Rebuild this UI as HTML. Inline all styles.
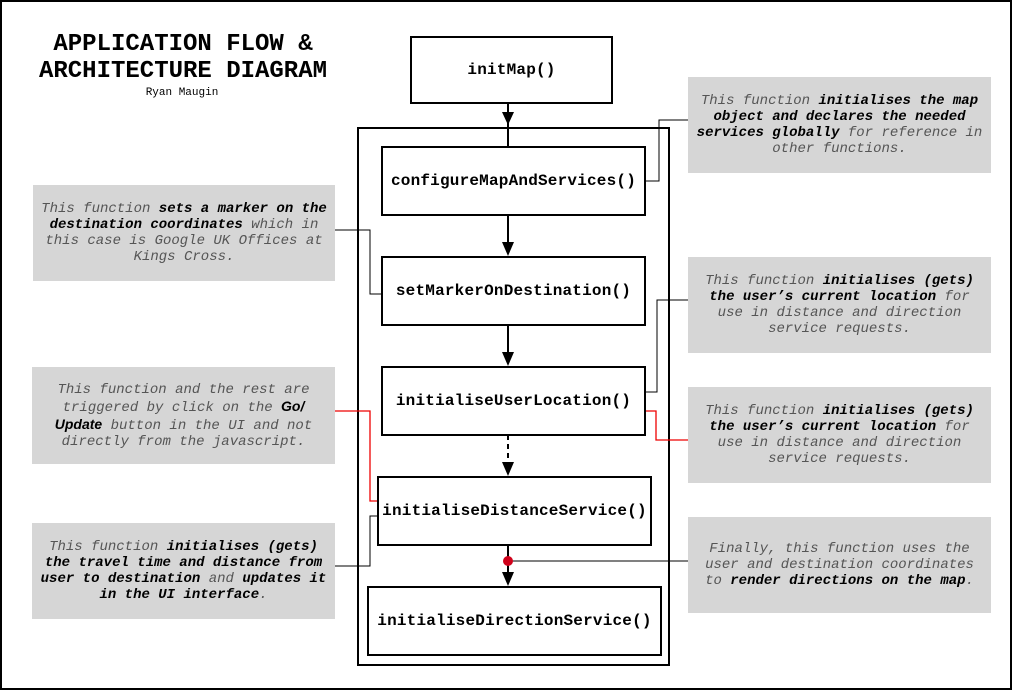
<!DOCTYPE html>
<html><head><meta charset="utf-8"><style>
*{margin:0;padding:0;box-sizing:border-box}
body{width:1012px;height:690px;background:#fff;position:relative;overflow:hidden;font-family:"Liberation Mono",monospace}
.frame{position:absolute;left:0;top:0;width:1012px;height:690px;border:2px solid #000}
.box{position:absolute;border:2px solid #000;background:#fff;display:flex;align-items:center;justify-content:center;font-weight:bold;font-size:16px;letter-spacing:0.2px;color:#000;white-space:nowrap}
.note{position:absolute;background:#d6d6d6;display:flex;align-items:center;justify-content:center;text-align:center;font-style:italic;font-size:14px;line-height:16px;color:#555;padding:0 7px}
.note b{color:#000}
.t{position:absolute;font-weight:bold;text-align:center;color:#000;white-space:nowrap}
</style></head><body>
<div class="frame"></div>
<div class="t" style="left:13px;top:31px;width:340px;font-size:24px;line-height:27px">APPLICATION FLOW &amp;<br>ARCHITECTURE DIAGRAM</div>
<div class="t" style="left:12px;top:87px;width:340px;font-size:11px;font-weight:normal">Ryan Maugin</div>

<svg width="1012" height="690" style="position:absolute;left:0;top:0">
<rect x="358" y="128" width="311" height="537" fill="none" stroke="#000" stroke-width="2"/>
<g stroke="#000" stroke-width="2">
<line x1="508" y1="103" x2="508" y2="147"/>
<line x1="508" y1="215" x2="508" y2="250"/>
<line x1="508" y1="325" x2="508" y2="360"/>
<line x1="508" y1="435" x2="508" y2="470" stroke-dasharray="5,4"/>
<line x1="508" y1="545" x2="508" y2="580"/>
</g>
<g fill="#000">
<polygon points="502,112 514,112 508,125"/>
<polygon points="502,242 514,242 508,256"/>
<polygon points="502,352 514,352 508,366"/>
<polygon points="502,462 514,462 508,476"/>
<polygon points="502,572 514,572 508,586"/>
</g>
<g fill="none" stroke="#000" stroke-width="1">
<polyline points="645,181 659,181 659,120 688,120"/>
<polyline points="645,392 657,392 657,300 688,300"/>
<polyline points="334,230 370,230 370,294 382,294"/>
<polyline points="334,566 370,566 370,516 378,516"/>
<line x1="508" y1="561" x2="688" y2="561"/>
</g>
<g fill="none" stroke="#e00" stroke-width="1.3">
<polyline points="645,411 656,411 656,440 688,440"/>
<polyline points="334,411 370,411 370,501 378,501"/>
</g>
<circle cx="508" cy="561" r="5" fill="#d0021b"/>
</svg>

<div class="box" style="left:410px;top:36px;width:203px;height:68px">initMap()</div>
<div class="box" style="left:381px;top:146px;width:265px;height:70px">configureMapAndServices()</div>
<div class="box" style="left:381px;top:256px;width:265px;height:70px">setMarkerOnDestination()</div>
<div class="box" style="left:381px;top:366px;width:265px;height:70px">initialiseUserLocation()</div>
<div class="box" style="left:377px;top:476px;width:275px;height:70px">initialiseDistanceService()</div>
<div class="box" style="left:367px;top:586px;width:295px;height:70px">initialiseDirectionService()</div>

<div class="note" style="left:688px;top:77px;width:303px;height:96px"><span>This function <b>initialises the map object and declares the needed services globally</b> for reference in other functions.</span></div>
<div class="note" style="left:688px;top:257px;width:303px;height:96px"><span>This function <b>initialises (gets) the user’s current location</b> for use in distance and direction service requests.</span></div>
<div class="note" style="left:688px;top:387px;width:303px;height:96px"><span>This function <b>initialises (gets) the user’s current location</b> for use in distance and direction service requests.</span></div>
<div class="note" style="left:688px;top:517px;width:303px;height:96px"><span>Finally, this function uses the user and destination coordinates to <b>render directions on the map</b>.</span></div>

<div class="note" style="left:33px;top:185px;width:302px;height:96px"><span>This function <b>sets a marker on the destination coordinates</b> which in this case is Google UK Offices at Kings Cross.</span></div>
<div class="note" style="left:32px;top:367px;width:303px;height:97px"><span>This function and the rest are triggered by click on the <b style="font-family:'Liberation Sans',sans-serif">Go/</b><br><b style="font-family:'Liberation Sans',sans-serif">Update</b> button in the UI and not directly from the javascript.</span></div>
<div class="note" style="left:32px;top:523px;width:303px;height:96px"><span>This function <b>initialises (gets) the travel time and distance from user to destination</b> and <b>updates it in the UI interface</b>.</span></div>
</body></html>
